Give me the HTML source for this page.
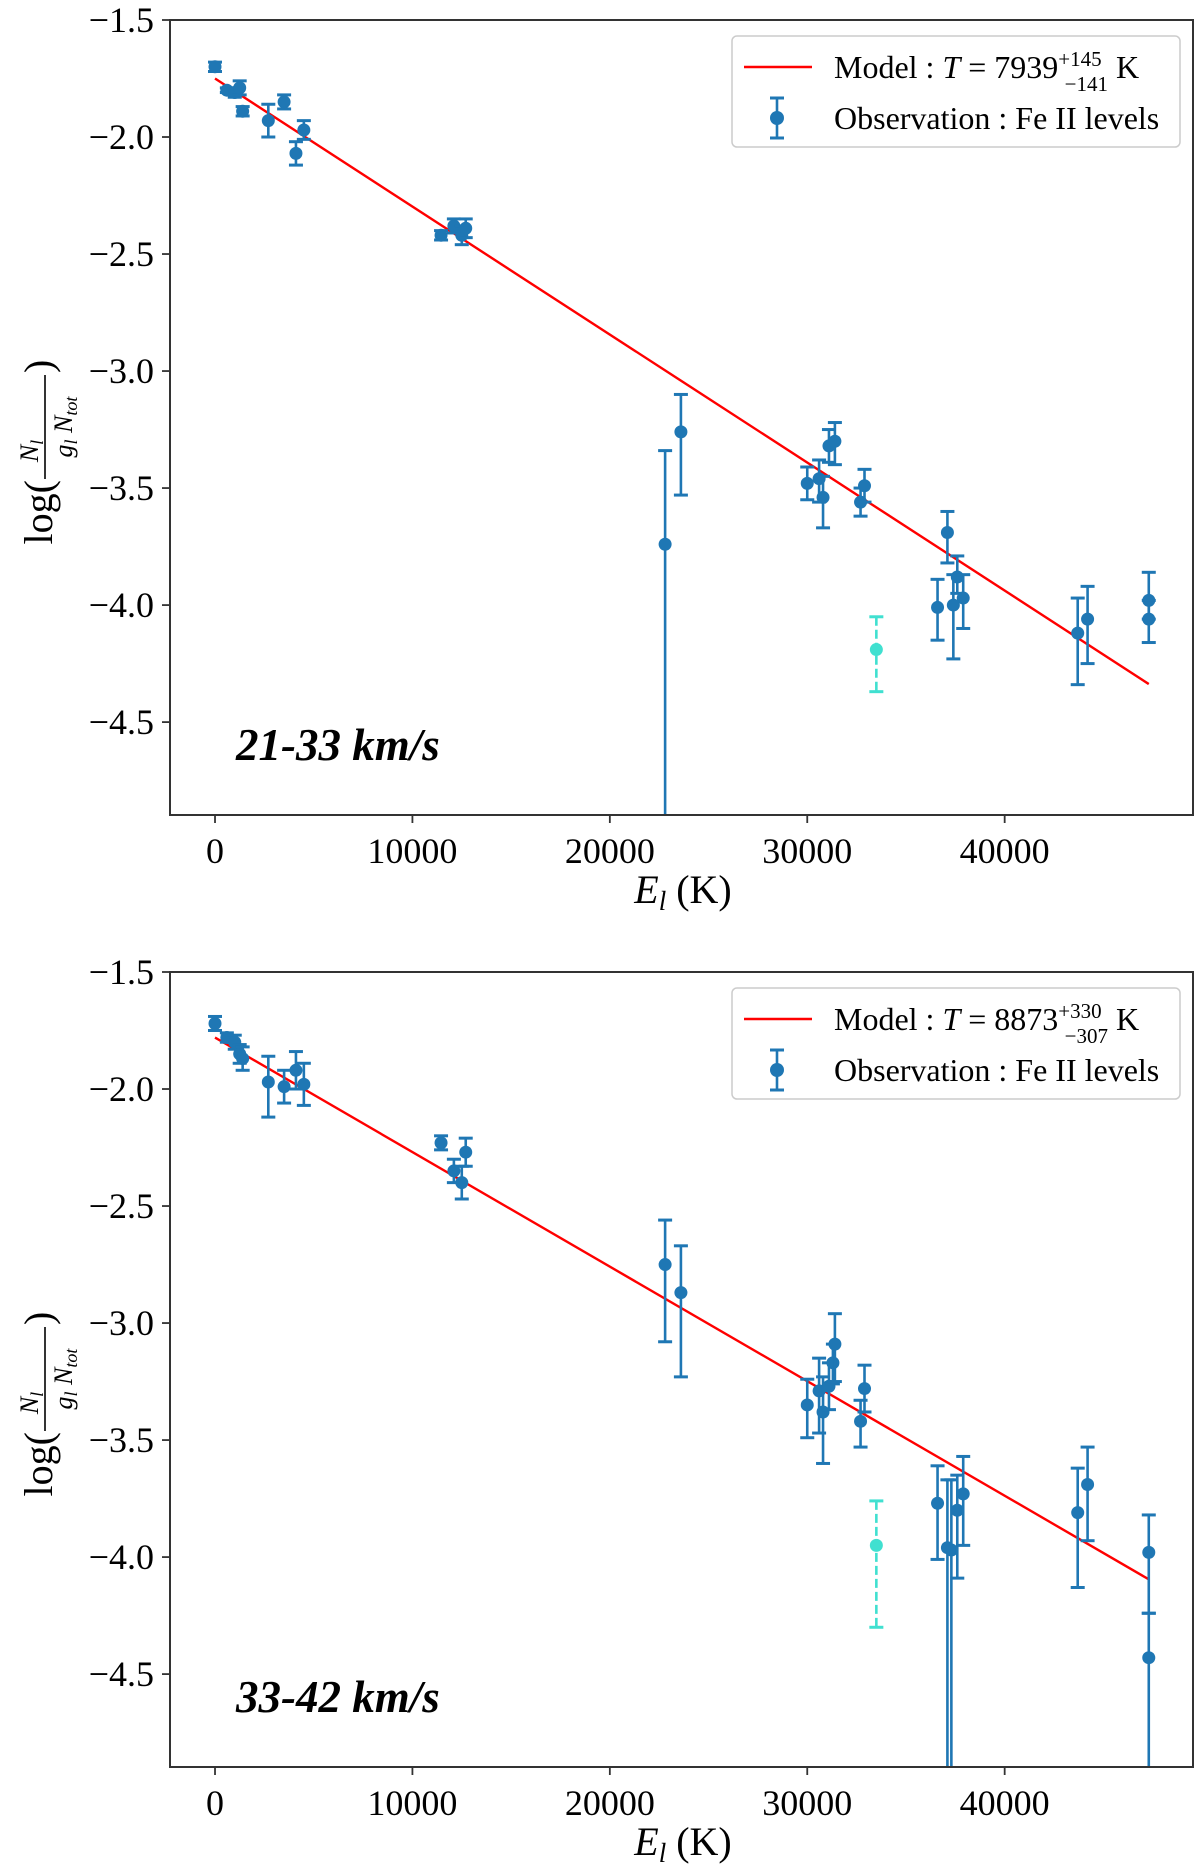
<!DOCTYPE html>
<html><head><meta charset="utf-8"><style>
html,body{margin:0;padding:0;background:#fff;overflow:hidden;width:1200px;height:1870px;}
svg{display:block;font-family:"Liberation Serif",serif;}
</style></head><body>
<svg id="chart" width="1200" height="1870" viewBox="0 0 1200 1870" xmlns="http://www.w3.org/2000/svg"></svg>
<script>
// ---- Panel 1 data (21-33 km/s) ----
const p1Energy = [0,600,1000,1250,1400,2700,3500,4100,4500,11450,12100,12500,12700,22800,23600,30000,30600,30800,31100,31400,32700,32900,36600,37100,37400,37600,37900,43700,44200,47300,47300];
const p1Value  = [-1.70,-1.80,-1.81,-1.79,-1.89,-1.93,-1.85,-2.07,-1.97,-2.42,-2.38,-2.42,-2.39,-3.74,-3.26,-3.48,-3.46,-3.54,-3.32,-3.30,-3.56,-3.49,-4.01,-3.69,-4.00,-3.88,-3.97,-4.12,-4.06,-3.98,-4.06];
const p1ErrUp  = [0.02,0.01,0.02,0.03,0.02,0.07,0.03,0.05,0.04,0.02,0.03,0.04,0.04,0.40,0.16,0.07,0.08,0.09,0.07,0.08,0.06,0.07,0.12,0.09,0.13,0.09,0.10,0.15,0.14,0.12,0.08];
const p1ErrLo  = [0.02,0.01,0.02,0.03,0.02,0.07,0.03,0.05,0.04,0.02,0.03,0.04,0.04,2.00,0.27,0.07,0.10,0.13,0.07,0.10,0.06,0.07,0.14,0.13,0.23,0.07,0.13,0.22,0.19,0.08,0.10];
const p1Outlier = [33500,-4.19,0.14,0.18];
const p1ModelT = 7939, p1ModelStart = -1.75, p1ModelEnd = 47300;
// ---- Panel 2 data (33-42 km/s) ----
const p2Energy = [0,600,1000,1250,1400,2700,3500,4100,4500,11450,12100,12500,12700,22800,23600,30000,30600,30800,31100,31300,31400,32700,32900,36600,37100,37300,37600,37900,43700,44200,47300,47300];
const p2Value  = [-1.72,-1.78,-1.80,-1.85,-1.87,-1.97,-1.99,-1.92,-1.98,-2.23,-2.35,-2.40,-2.27,-2.75,-2.87,-3.35,-3.29,-3.38,-3.27,-3.17,-3.09,-3.42,-3.28,-3.77,-3.96,-3.97,-3.80,-3.73,-3.81,-3.69,-3.98,-4.43];
const p2ErrUp  = [0.03,0.02,0.03,0.04,0.05,0.11,0.07,0.08,0.09,0.03,0.05,0.07,0.06,0.19,0.20,0.11,0.14,0.15,0.10,0.08,0.13,0.09,0.10,0.16,0.29,0.30,0.15,0.16,0.19,0.16,0.16,0.19];
const p2ErrLo  = [0.03,0.02,0.03,0.04,0.05,0.15,0.07,0.08,0.09,0.03,0.05,0.07,0.06,0.33,0.36,0.14,0.18,0.22,0.10,0.09,0.16,0.11,0.10,0.24,2.00,2.00,0.29,0.22,0.32,0.24,0.26,2.00];
const p2Outlier = [33500,-3.95,0.19,0.35];
const p2ModelT = 8873, p2ModelStart = -1.78, p2ModelEnd = 47300;
const yTicks = [-1.5,-2.0,-2.5,-3.0,-3.5,-4.0,-4.5];
const yTickLabels = ["\u22121.5","\u22122.0","\u22122.5","\u22123.0","\u22123.5","\u22124.0","\u22124.5"];
const xTicks = [0,10000,20000,30000,40000];
const xTickLabels = ["0","10000","20000","30000","40000"];

const NS="http://www.w3.org/2000/svg";
const svg=document.getElementById('chart');
function mk(tag,attrs,parent){const e=document.createElementNS(NS,tag);for(const k in attrs)e.setAttribute(k,attrs[k]);(parent||svg).appendChild(e);return e;}
const BLUE="#1f77b4", CYAN="#40e0d0";

function panel(top, energy, value, up, lo, outlier, T, start, endE, label, tempTxt, supTxt, subTxt, idx){
  const L=170,R=1193,B=top+795;
  const X0=-2280, X1=49540, Y0=-4.897, Y1=-1.5;
  const sx=v=>L+(v-X0)/(X1-X0)*(R-L);
  const sy=v=>top+(Y1-v)/(Y1-Y0)*(B-top);
  const g=mk('g',{});
  
  
  const clipId='clip'+idx;
  const cp=mk('clipPath',{id:clipId},g); mk('rect',{x:L,y:top,width:R-L,height:B-top},cp);
  const plot=mk('g',{'clip-path':'url(#'+clipId+')'},g);
  const slope=-Math.LOG10E/T;
  const ml=mk('line',{x1:sx(0),y1:sy(start),x2:sx(endE),y2:sy(start+slope*endE),stroke:'#ff0000','stroke-width':2.4},plot);
  
  
  for(let i=0;i<energy.length;i++){
    const x=sx(energy[i]);
    const pg=mk('g',{},plot);
    
    
    mk('line',{x1:x,y1:sy(value[i]+up[i]),x2:x,y2:sy(value[i]-lo[i]),stroke:BLUE,'stroke-width':2.6},pg);
    mk('line',{x1:x-7,y1:sy(value[i]+up[i]),x2:x+7,y2:sy(value[i]+up[i]),stroke:BLUE,'stroke-width':3},pg);
    mk('line',{x1:x-7,y1:sy(value[i]-lo[i]),x2:x+7,y2:sy(value[i]-lo[i]),stroke:BLUE,'stroke-width':3},pg);
    mk('circle',{cx:x,cy:sy(value[i]),r:6.5,fill:BLUE},pg);
  }
  {const [e,v,u,l]=outlier;const x=sx(e);
   const og=mk('g',{},plot);
   
   
   mk('line',{x1:x,y1:sy(v+u),x2:x,y2:sy(v-l),stroke:CYAN,'stroke-width':2.6,'stroke-dasharray':'9,4'},og);
   mk('line',{x1:x-7,y1:sy(v+u),x2:x+7,y2:sy(v+u),stroke:CYAN,'stroke-width':3},og);
   mk('line',{x1:x-7,y1:sy(v-l),x2:x+7,y2:sy(v-l),stroke:CYAN,'stroke-width':3},og);
   mk('circle',{cx:x,cy:sy(v),r:6.5,fill:CYAN},og);}
  const fr=mk('rect',{x:L,y:top,width:R-L,height:B-top,fill:'none',stroke:'#333','stroke-width':2},g);
  
  
  yTicks.forEach((t,i)=>{const y=sy(t);
    mk('line',{x1:L-8,y1:y,x2:L,y2:y,stroke:'#333','stroke-width':1.8},g);
    const tx=mk('text',{x:L-16,y:y+12,'text-anchor':'end','font-size':36,fill:'#000'},g);tx.textContent=yTickLabels[i];
    
    });
  xTicks.forEach((t,i)=>{const x=sx(t);
    mk('line',{x1:x,y1:B,x2:x,y2:B+8,stroke:'#333','stroke-width':1.8},g);
    const tx=mk('text',{x:x,y:B+48,'text-anchor':'middle','font-size':36,fill:'#000'},g);tx.textContent=xTickLabels[i];
    
    });
  const xl=mk('text',{x:683,y:B+88,'text-anchor':'middle','font-size':40},g);
  xl.innerHTML='<tspan font-style="italic">E</tspan><tspan font-style="italic" font-size="27" dy="7">l</tspan><tspan dy="-7"> (K)</tspan>';
  
  
  const yg=mk('g',{transform:'translate(52,'+(top+405)+') rotate(-90)'},g);
  
  
  const t1=mk('text',{x:-55,y:0,'font-size':40,'text-anchor':'end'},yg);t1.textContent='log(';
  const tn=mk('text',{x:-26,y:-14,'font-size':26,'font-style':'italic','text-anchor':'middle'},yg);tn.innerHTML='N<tspan font-size="18" dy="5">l</tspan>';
  mk('line',{x1:-54,y1:-7,x2:50,y2:-7,stroke:'#000','stroke-width':1.6},yg);
  const td=mk('text',{x:-2,y:20,'font-size':26,'font-style':'italic','text-anchor':'middle'},yg);td.innerHTML='g<tspan font-size="18" dy="5">l</tspan><tspan dy="-5"> N</tspan><tspan font-size="18" dy="5">tot</tspan>';
  const t2=mk('text',{x:52,y:0,'font-size':40},yg);t2.textContent=')';
  const pl=mk('text',{x:236,y:top+740,'font-size':45,'font-weight':'bold','font-style':'italic'},g);pl.textContent=label;
  
  
  const lg=mk('g',{},g);
  
  
  mk('rect',{x:732,y:top+16,width:448,height:111,rx:5,fill:'#fff',stroke:'#ccc','stroke-width':1.5},lg);
  mk('line',{x1:744,y1:top+47,x2:812,y2:top+47,stroke:'#ff0000','stroke-width':2.4},lg);
  const le1=mk('text',{x:834,y:top+58,'font-size':32},lg);
  le1.innerHTML='Model : <tspan font-style="italic">T</tspan> = '+tempTxt+'<tspan font-size="21" dy="-12">'+supTxt+'</tspan><tspan font-size="21" dx="-37" dy="25">'+subTxt+'</tspan><tspan dy="-13">  K</tspan>';
  
  
  const mx=777,my=top+98;
  mk('line',{x1:mx,y1:my-20,x2:mx,y2:my+20,stroke:BLUE,'stroke-width':2.6},lg);
  mk('line',{x1:mx-7,y1:my-20,x2:mx+7,y2:my-20,stroke:BLUE,'stroke-width':3},lg);
  mk('line',{x1:mx-7,y1:my+20,x2:mx+7,y2:my+20,stroke:BLUE,'stroke-width':3},lg);
  mk('circle',{cx:mx,cy:my,r:7,fill:BLUE},lg);
  const le2=mk('text',{x:834,y:my+11,'font-size':32},lg);le2.textContent='Observation : Fe II levels';
  
  
}
panel(20,p1Energy,p1Value,p1ErrUp,p1ErrLo,p1Outlier,p1ModelT,p1ModelStart,p1ModelEnd,'21-33 km/s','7939','+145','\u2212141',1);
panel(972,p2Energy,p2Value,p2ErrUp,p2ErrLo,p2Outlier,p2ModelT,p2ModelStart,p2ModelEnd,'33-42 km/s','8873','+330','\u2212307',2);
</script>
</body></html>
